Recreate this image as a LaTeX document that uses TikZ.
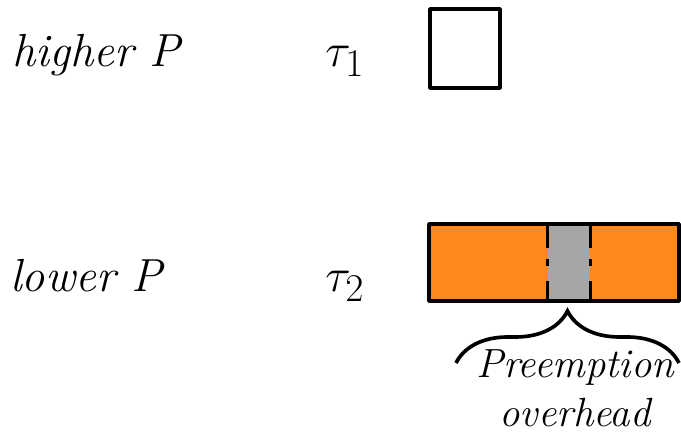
\documentclass[tikz,border=0pt]{standalone}
\usepackage{amsmath}
\usepackage{graphicx}
\usepackage{tikz}
\usetikzlibrary{decorations.pathreplacing}

\definecolor{taskorange}{RGB}{253,136,28}
\definecolor{ovhgray}{RGB}{166,166,166}

\begin{document}
\begin{tikzpicture}[
  lbl/.style={anchor=base west, inner sep=0pt, font=\fontsize{33}{40}\selectfont\itshape},
  tsk/.style={anchor=base west, inner sep=0pt, font=\Huge},
  job/.style={draw, line width=2.8pt, inner sep=0pt, rounded corners=0.5pt},
  sep/.style={line width=2.2pt, dash pattern=on 0.6cm off 0.28cm on 0.18cm off 0.38cm on 0.6cm}
]
\useasboundingbox (0,0) rectangle (17.025,11.15);

\node[lbl] (hp) at (0.3,9.475) {higher P};
\node[lbl] (lp) at (0.25,3.85) {lower P};
\node[tsk] (t1) at (8.125,9.475) {\scalebox{1.35}{$\tau_1$}};
\node[tsk] (t2) at (8.125,3.85) {\scalebox{1.35}{$\tau_2$}};

% tau_1 job
\node[job, fill=white, minimum width=1.75cm, minimum height=1.975cm] (job1) at (11.625,9.9375) {};

% tau_2 job, preempted
\node[fill=taskorange, minimum width=6.25cm, minimum height=1.925cm, inner sep=0pt] (job2) at (13.85,4.5875) {};
\node[fill=ovhgray, minimum width=1.05cm, minimum height=1.925cm, inner sep=0pt] (ovh) at (14.225,4.5875) {};
\draw[sep] (ovh.north west) -- (ovh.south west);
\draw[sep] (ovh.north east) -- (ovh.south east);
\node[job, minimum width=6.25cm, minimum height=1.925cm] (bar) at (13.85,4.5875) {};

\coordinate (brl) at (11.4,2.075);
\coordinate (brr) at (16.975,2.075);
\draw[line width=2.6pt, decorate, decoration={brace, amplitude=1.3cm}] (brl) -- (brr);

\node[font=\fontsize{29}{35}\selectfont\itshape, align=center, inner sep=0pt, anchor=base] (ovhtxt) at (14.375,0.475) {Preemption\\overhead};
\end{tikzpicture}
\end{document}
